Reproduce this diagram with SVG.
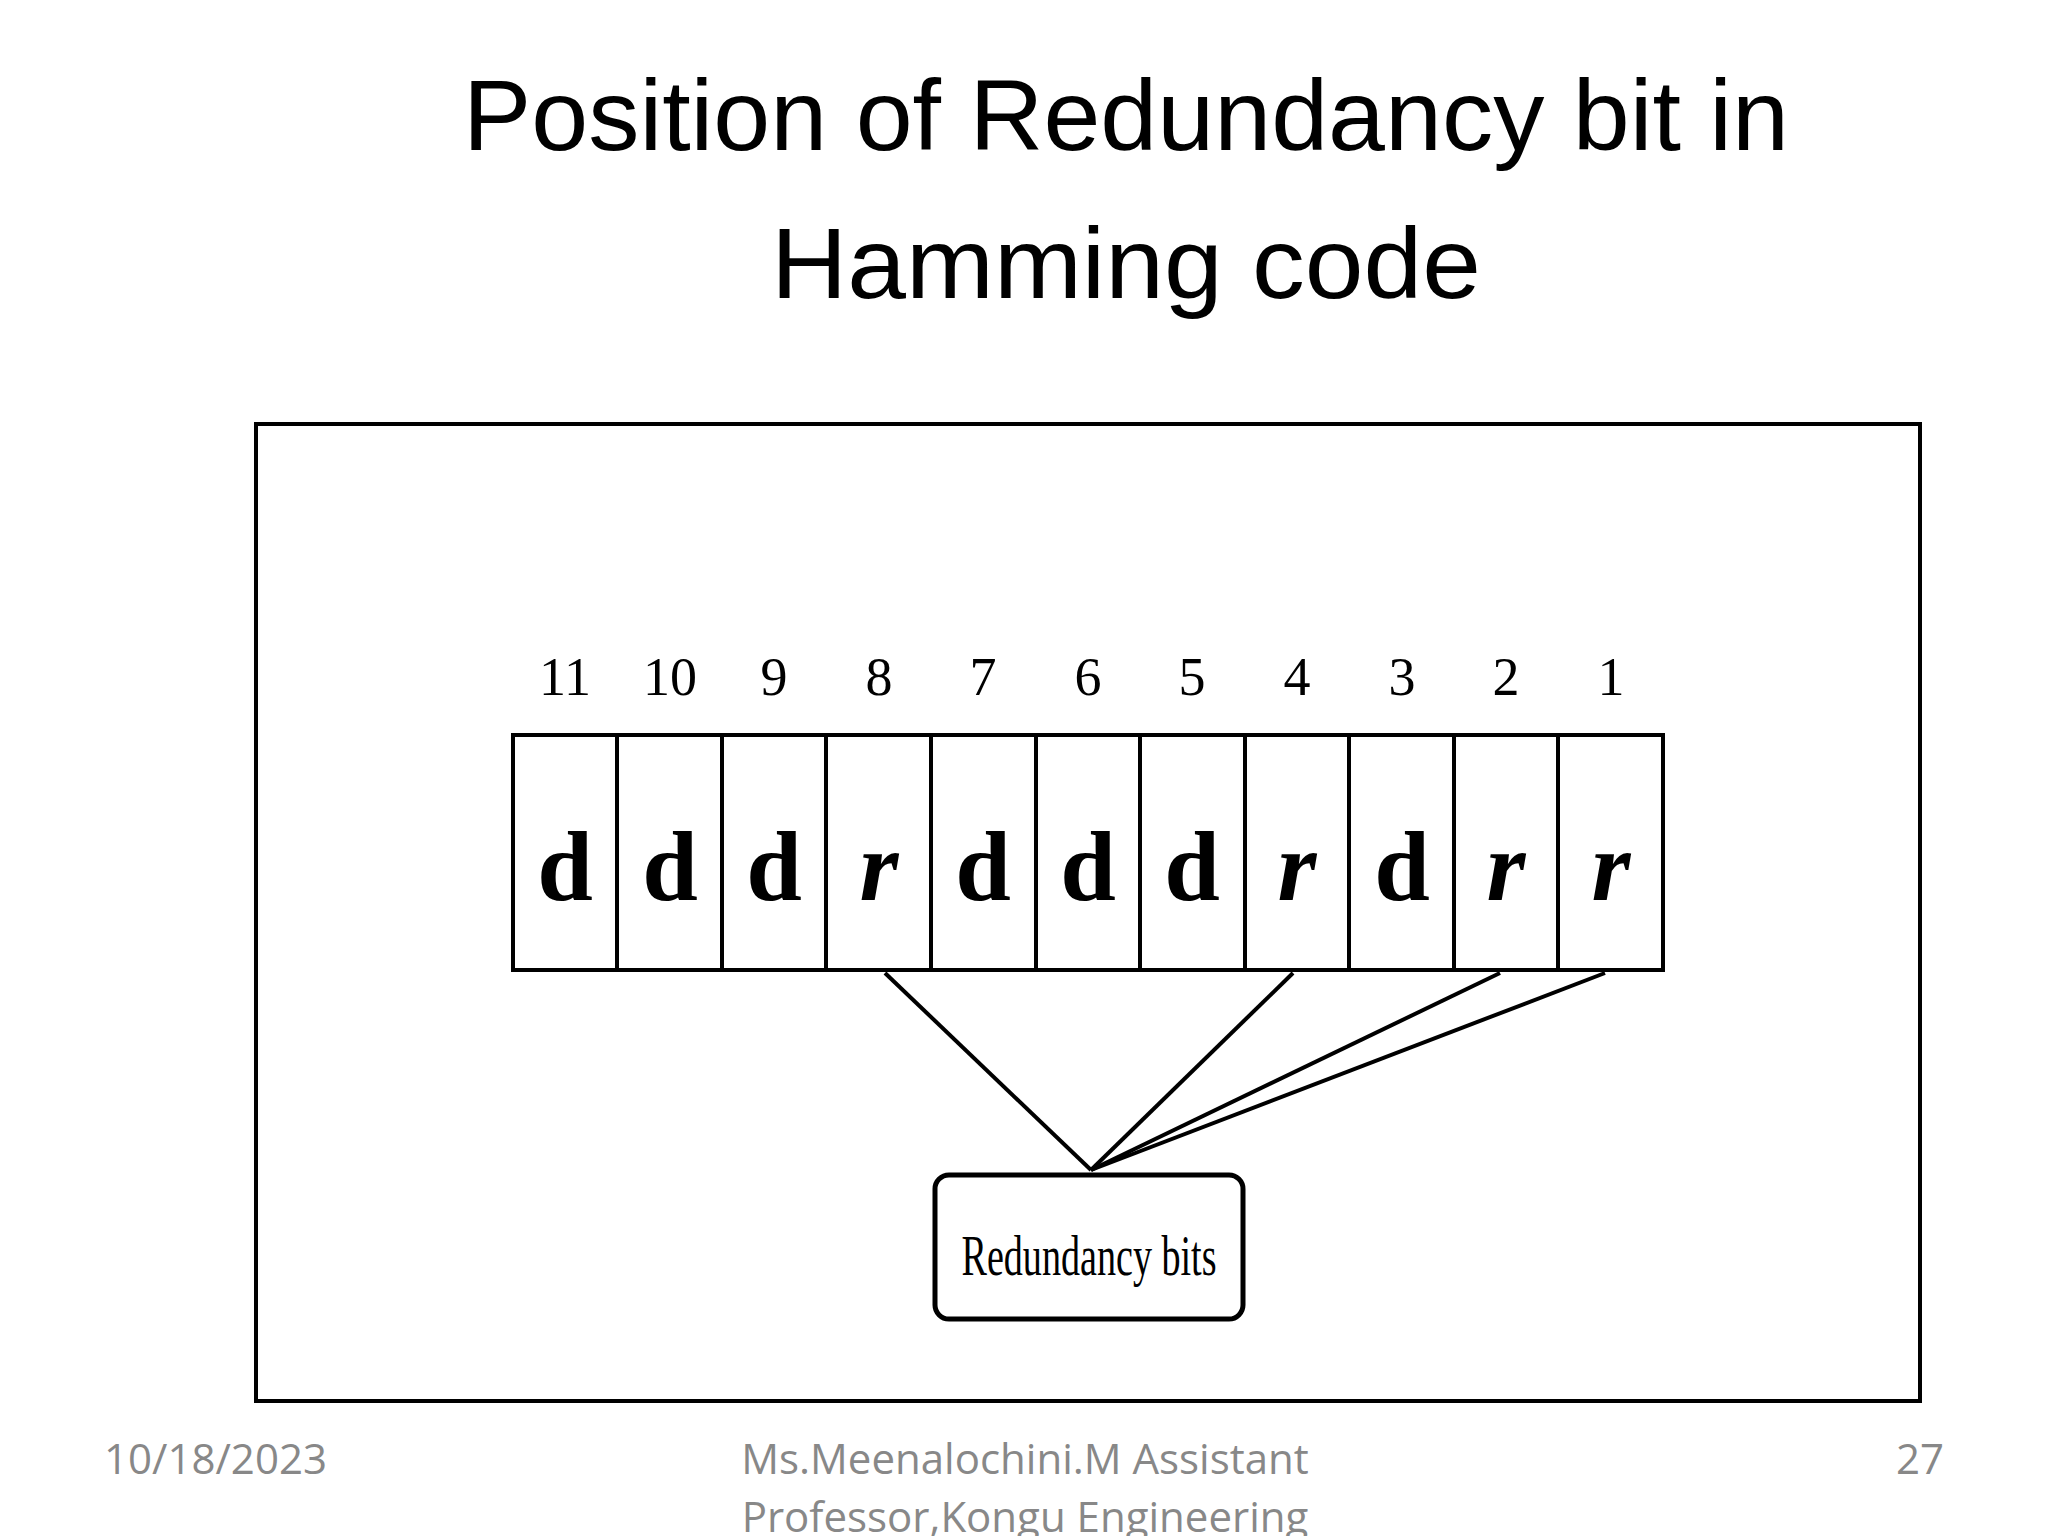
<svg xmlns="http://www.w3.org/2000/svg" width="2048" height="1536" viewBox="0 0 2048 1536">
<style>
.title{font-family:"Liberation Sans",Arial,sans-serif;font-size:100px;fill:#000;text-anchor:middle}
.num{font-family:"Liberation Serif",serif;font-size:54px;text-anchor:middle;fill:#000}
.bit{font-family:"Liberation Serif",serif;font-size:100px;font-weight:bold;text-anchor:middle;fill:#000}
.foot{font-family:"Open Sans",sans-serif;font-size:42px;fill:#888}
.cell{fill:#fff;stroke:#000;stroke-width:4}
.conn{stroke:#000;stroke-width:4;fill:none}
</style>
<rect width="2048" height="1536" fill="#fff"/>
<text class="title" x="1126" y="150" textLength="1326" lengthAdjust="spacingAndGlyphs">Position of Redundancy bit in</text>
<text class="title" x="1126" y="298" textLength="710" lengthAdjust="spacingAndGlyphs">Hamming code</text>
<rect x="256" y="424" width="1664" height="977" fill="none" stroke="#000" stroke-width="4"/>
<g id="cells">
<rect class="cell" x="513" y="735" width="1150" height="235" stroke-width="6"/>
<g id="c11"><text class="num" x="565" y="695">11</text><text class="bit" x="565" y="900">d</text></g>
<g id="c10"><line class="conn" x1="617" y1="735" x2="617" y2="970"/><text class="num" x="670" y="695">10</text><text class="bit" x="670" y="900">d</text></g>
<g id="c9"><line class="conn" x1="722" y1="735" x2="722" y2="970"/><text class="num" x="774" y="695">9</text><text class="bit" x="774" y="900">d</text></g>
<g id="c8"><line class="conn" x1="826" y1="735" x2="826" y2="970"/><text class="num" x="879" y="695">8</text><text class="bit" x="879" y="900" font-style="italic">r</text></g>
<g id="c7"><line class="conn" x1="931" y1="735" x2="931" y2="970"/><text class="num" x="983" y="695">7</text><text class="bit" x="983" y="900">d</text></g>
<g id="c6"><line class="conn" x1="1036" y1="735" x2="1036" y2="970"/><text class="num" x="1088" y="695">6</text><text class="bit" x="1088" y="900">d</text></g>
<g id="c5"><line class="conn" x1="1140" y1="735" x2="1140" y2="970"/><text class="num" x="1192" y="695">5</text><text class="bit" x="1192" y="900">d</text></g>
<g id="c4"><line class="conn" x1="1245" y1="735" x2="1245" y2="970"/><text class="num" x="1297" y="695">4</text><text class="bit" x="1297" y="900" font-style="italic">r</text></g>
<g id="c3"><line class="conn" x1="1349" y1="735" x2="1349" y2="970"/><text class="num" x="1402" y="695">3</text><text class="bit" x="1402" y="900">d</text></g>
<g id="c2"><line class="conn" x1="1454" y1="735" x2="1454" y2="970"/><text class="num" x="1506" y="695">2</text><text class="bit" x="1506" y="900" font-style="italic">r</text></g>
<g id="c1"><line class="conn" x1="1558" y1="735" x2="1558" y2="970"/><text class="num" x="1611" y="695">1</text><text class="bit" x="1611" y="900" font-style="italic">r</text></g>
</g>
<g id="connectors">
<line class="conn" x1="885" y1="973" x2="1091" y2="1170"/>
<line class="conn" x1="1293" y1="973" x2="1091" y2="1170"/>
<line class="conn" x1="1500" y1="973" x2="1091" y2="1170"/>
<line class="conn" x1="1605" y1="973" x2="1091" y2="1170"/>
</g>
<g id="redundancy">
<rect x="935" y="1175" width="308" height="144" rx="14" fill="#fff" stroke="#000" stroke-width="5"/>
<text x="1089" y="1275" font-family="Liberation Serif,serif" font-size="58" text-anchor="middle" textLength="255" lengthAdjust="spacingAndGlyphs">Redundancy bits</text>
</g>
<text class="foot" x="104" y="1474">10/18/2023</text>
<text class="foot" x="1025" y="1474" text-anchor="middle">Ms.Meenalochini.M Assistant</text>
<text class="foot" x="1025" y="1532" text-anchor="middle">Professor,Kongu Engineering</text>
<text class="foot" x="1944" y="1474" text-anchor="end">27</text>
</svg>
